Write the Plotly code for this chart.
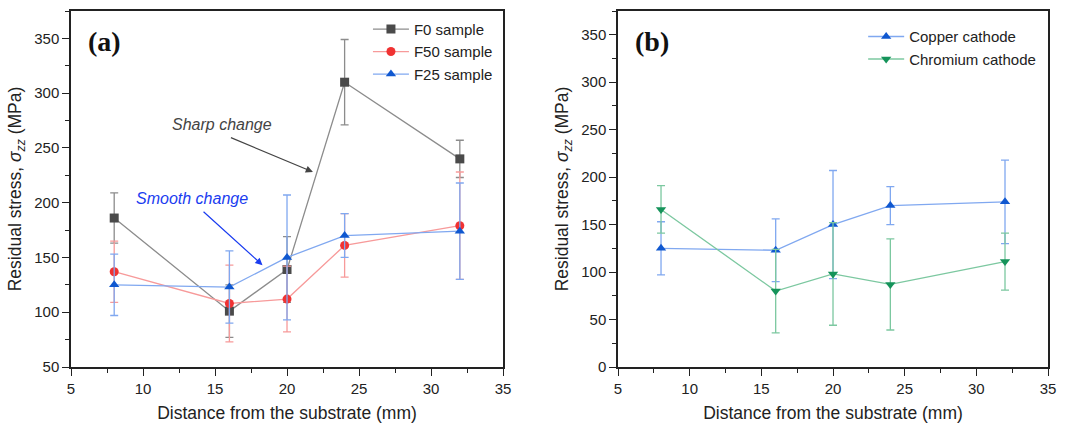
import plotly.graph_objects as go

# ---- data ----
x_dist = [8, 16, 20, 24, 32]

f0_val = [186, 101, 139, 310, 240]
f0_err = [23, 24, 30, 39, 17]

f50_val = [137, 108, 112, 161, 179]
f50_err = [28, 35, 30, 29, 49]

f25_val = [125, 123, 150, 170, 174]
f25_err = [28, 33, 57, 20, 44]

cu_val = [125, 123, 150, 170, 174]
cu_err = [28, 33, 57, 20, 44]

cr_val = [166, 80, 98, 87, 111]
cr_err = [25, 44, 54, 48, 30]

FONT = "Liberation Sans, Arial, sans-serif"

fig = go.Figure()

def add(name, y, err, line_c, mark_c, symbol, xa, ya, legend):
    fig.add_trace(go.Scatter(
        x=x_dist, y=y, name=name, mode="lines+markers",
        line=dict(color=line_c, width=1.3),
        marker=dict(color=mark_c, symbol=symbol, size=9),
        error_y=dict(type="data", array=err, visible=True, color=line_c,
                     thickness=1.3, width=4),
        xaxis=xa, yaxis=ya, legend=legend))

add("F0 sample", f0_val, f0_err, "#8c8c8c", "#4a4a4a", "square", "x", "y", "legend")
add("F50 sample", f50_val, f50_err, "#f79a9a", "#f03232", "circle", "x", "y", "legend")
add("F25 sample", f25_val, f25_err, "#80a8f0", "#1058d0", "triangle-up", "x", "y", "legend")
add("Copper cathode", cu_val, cu_err, "#80a8f0", "#1058d0", "triangle-up", "x2", "y2", "legend2")
add("Chromium cathode", cr_val, cr_err, "#7cc8a0", "#15935a", "triangle-down", "x2", "y2", "legend2")

axis_common = dict(
    showline=True, linecolor="#222", linewidth=1.5, mirror=True,
    ticks="outside", ticklen=7, tickwidth=1.3, tickcolor="#222",
    showgrid=False, zeroline=False, automargin=False,
    tickfont=dict(family=FONT, size=15, color="#222"),
)

def minor(dt):
    return dict(ticks="outside", ticklen=4, tickwidth=1.2, tickcolor="#222", dtick=dt)

xtitle = dict(text="Distance from the substrate (mm)", font=dict(family=FONT, size=17.5, color="#222"), standoff=11)
ytitle = dict(text="Residual stress, <i>σ<sub>zz</sub></i> (MPa)", font=dict(family=FONT, size=17.5, color="#222"), standoff=8)

fig.update_layout(
    width=1070, height=427,
    margin=dict(l=71, r=22, t=11, b=60),
    paper_bgcolor="white", plot_bgcolor="white",
    xaxis=dict(domain=[0.0, 0.4422], range=[5, 35], dtick=5, tick0=5, minor=minor(2.5),
               title=xtitle, anchor="y", **axis_common),
    yaxis=dict(domain=[0.0, 1.0], range=[50, 375], dtick=50, tick0=50, minor=minor(25),
               title=ytitle, anchor="x", **axis_common),
    xaxis2=dict(domain=[0.5599, 1.0], range=[5, 35], dtick=5, tick0=5, minor=minor(2.5),
                title=xtitle, anchor="y2", **axis_common),
    yaxis2=dict(domain=[0.0, 1.0], range=[0, 375], dtick=50, tick0=0, minor=minor(25),
                title=ytitle, anchor="x2", **axis_common),
    legend=dict(x=0.437, y=0.995, xanchor="right", yanchor="top",
                bgcolor="rgba(0,0,0,0)", font=dict(family=FONT, size=15, color="#222"),
                tracegroupgap=0, itemwidth=36),
    legend2=dict(x=0.993, y=0.974, xanchor="right", yanchor="top",
                 bgcolor="rgba(0,0,0,0)", font=dict(family=FONT, size=15, color="#222"),
                 tracegroupgap=0, itemwidth=36),
    showlegend=True,
)

# panel labels
fig.add_annotation(text="<b>(a)</b>", xref="x domain", yref="y domain", x=0.035, y=0.915,
                   xanchor="left", yanchor="middle", showarrow=False,
                   font=dict(family="Liberation Serif, Times New Roman, serif", size=28, color="#111"))
fig.add_annotation(text="<b>(b)</b>", xref="x2 domain", yref="y2 domain", x=0.035, y=0.915,
                   xanchor="left", yanchor="middle", showarrow=False,
                   font=dict(family="Liberation Serif, Times New Roman, serif", size=28, color="#111"))

# Sharp change
fig.add_annotation(text="<i>Sharp change</i>", x=15.5, y=271, xref="x", yref="y",
                   showarrow=False, font=dict(family=FONT, size=16, color="#444"))
fig.add_annotation(x=21.8, y=228, ax=16.0, ay=260, xref="x", yref="y", axref="x", ayref="y",
                   showarrow=True, arrowhead=2, arrowsize=1.2, arrowwidth=1.2, arrowcolor="#444", text="")
# Smooth change
fig.add_annotation(text="<i>Smooth change</i>", x=13.4, y=204, xref="x", yref="y",
                   showarrow=False, font=dict(family=FONT, size=16, color="#1a3cf0"))
fig.add_annotation(x=18.3, y=143, ax=14.1, ay=193, xref="x", yref="y", axref="x", ayref="y",
                   showarrow=True, arrowhead=2, arrowsize=1.2, arrowwidth=1.2, arrowcolor="#1a3cf0", text="")

fig.write_html("out.html")
